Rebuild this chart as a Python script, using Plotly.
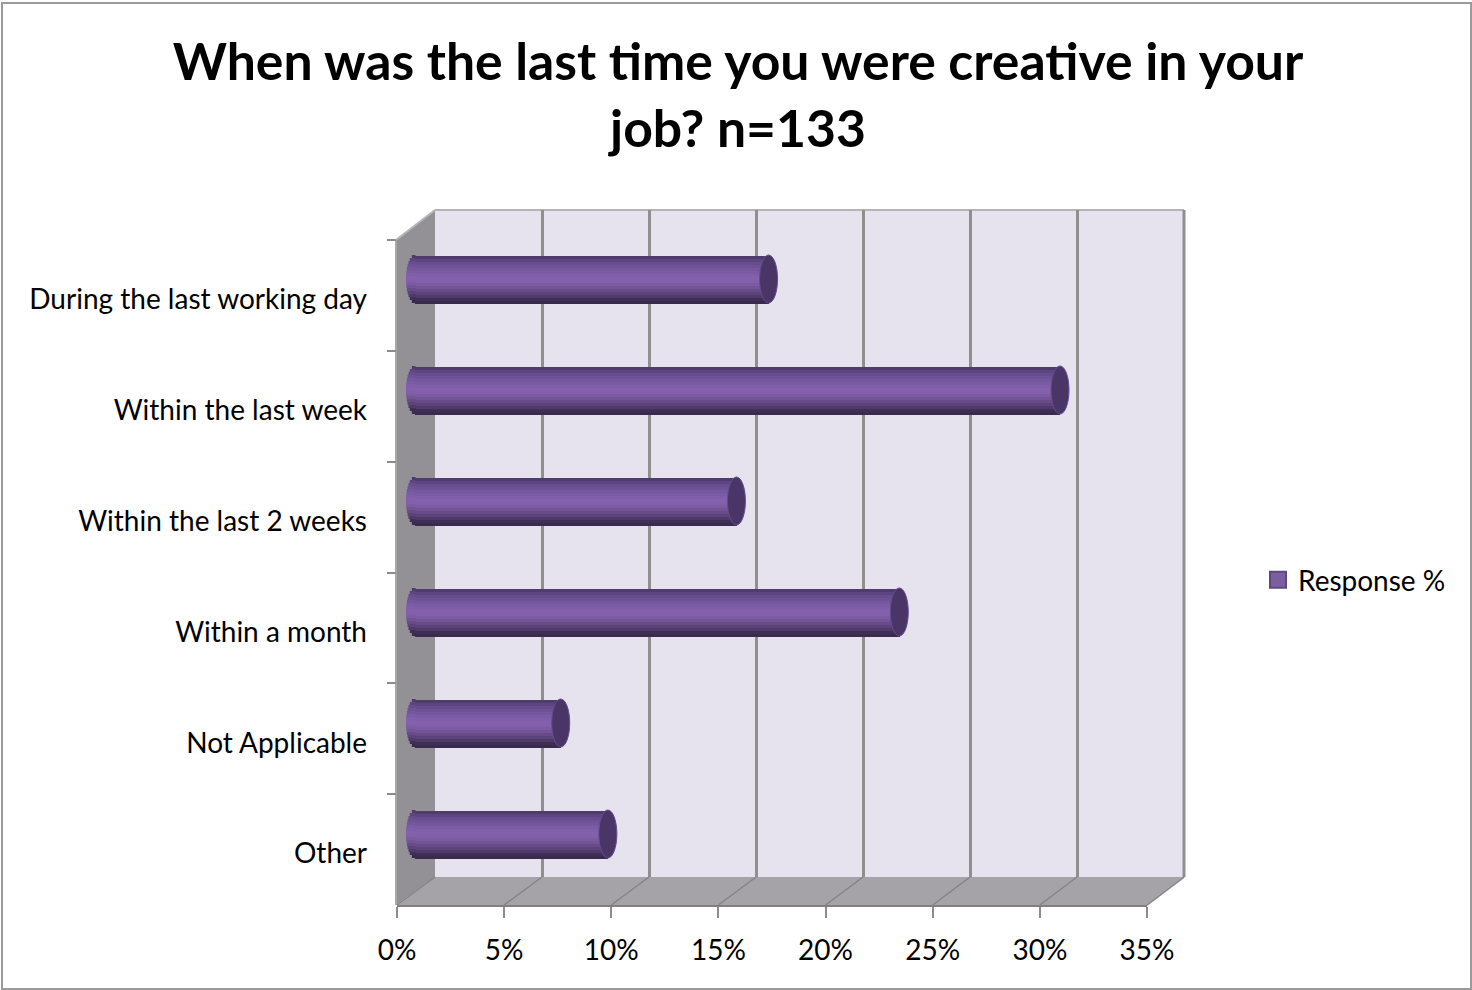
import math
import plotly.graph_objects as go

# Survey results, n=133
categories = ["During the last working day", "Within the last week", "Within the last 2 weeks",
              "Within a month", "Not Applicable", "Other"]
response_pct = [16.5, 30.1, 15.0, 22.6, 6.8, 9.0]
series_name = "Response %"
title_text = "When was the last time you were creative in your<br>job? n=133"

W, H = 1472, 990
FONT = "Lato"

# Cylinder shading, top edge to bottom edge
band_colors = ["#4f3b6e", "#5c4580", "#674d8e", "#6d5296", "#74579e", "#7a5ba4", "#805ea9", "#8460ad",
               "#8360ab", "#7c5ba3", "#735497", "#684c8a", "#5c437a", "#4f3a69", "#3f2e55", "#3a2a4e"]


def px(v):
    return v / W


def py(v):
    return 1 - v / H


def dom_x(a, b):
    return [px(a), px(b)]


def dom_y(top, bottom):
    return [py(bottom), py(top)]


# Pseudo-3D frame geometry in page pixels
FRONT_L, FRONT_R, FRONT_T, FRONT_B = 397, 1147, 240, 905
BACK_L, BACK_R, BACK_T, BACK_B = 435, 1184, 210, 877
BAR_L, BAR_R = 415, 1165
BAR_T, BAR_B = 223.5, 889.5
BAR_THICK = 48 / 111
CAP_RX = 9
PX_PER_PCT = (BAR_R - BAR_L) / 35
LABEL_DROP = 4

fig = go.Figure()


def polygon(points, fill):
    path = "M " + " L ".join(f"{px(x):.5f},{py(y):.5f}" for x, y in points) + " Z"
    return dict(type="path", path=path, xref="paper", yref="paper", fillcolor=fill,
                line=dict(width=0), layer="below")


def segment(x0, y0, x1, y1, color, width=2, layer="below"):
    return dict(type="line", xref="paper", yref="paper", x0=px(x0), y0=py(y0), x1=px(x1), y1=py(y1),
                line=dict(color=color, width=width), layer=layer)


shapes = [
    polygon([(BACK_L, BACK_T), (BACK_R, BACK_T), (BACK_R, BACK_B), (BACK_L, BACK_B)], "#e6e3ee"),
    polygon([(396, FRONT_T), (BACK_L, BACK_T), (BACK_L, BACK_B), (396, FRONT_B)], "#939196"),
    polygon([(FRONT_L, FRONT_B), (BACK_L, BACK_B), (BACK_R, BACK_B), (FRONT_R, FRONT_B)], "#a5a3a8"),
    segment(396, FRONT_T, BACK_L, BACK_T, "#b5b5b5"),
    segment(BACK_L, BACK_T, BACK_R, BACK_T, "#b5b5b5"),
    segment(396, FRONT_T, 396, FRONT_B, "#a8a8a8"),
    segment(FRONT_R, FRONT_B, BACK_R, BACK_B, "#b8b8b8"),
    segment(BACK_R, BACK_T, BACK_R, BACK_B, "#8f8f8f", 3),
]
# Floor lines running from each front tick back to its gridline
for i in range(8):
    f = FRONT_L + (FRONT_R - FRONT_L) * i / 7
    b = BACK_L + (BACK_R - BACK_L) * i / 7
    shapes.append(segment(f, FRONT_B, b, BACK_B, "#858387", 1.5))
# Outer chart frame
shapes.append(dict(type="rect", xref="paper", yref="paper", x0=px(2), y0=py(989), x1=px(1471), y1=py(3),
                   line=dict(color="#9b9b9b", width=2), fillcolor="rgba(0,0,0,0)", layer="below"))

# Back wall gridlines
fig.add_trace(go.Scatter(x=[None], y=[None], xaxis="x", yaxis="y", showlegend=False, hoverinfo="skip"))

# Front axes carry the ticks
fig.add_trace(go.Scatter(x=response_pct, y=categories, xaxis="x2", yaxis="y2", mode="markers",
                         marker=dict(opacity=0), showlegend=False, hoverinfo="skip"))

# The cylinder body: overlaid bars, each band painted from its top edge to the bottom
n = len(band_colors)
step = BAR_THICK / n
for k, color in enumerate(band_colors):
    fig.add_trace(go.Bar(x=response_pct, y=categories, orientation="h", xaxis="x3", yaxis="y3",
                         offset=-BAR_THICK / 2 + k * step, width=BAR_THICK - k * step,
                         marker=dict(color=color, line=dict(width=0)), showlegend=False,
                         hovertemplate="%{y}: %{x}%<extra></extra>"))

# Legend swatch
fig.add_trace(go.Scatter(x=[None], y=[None], xaxis="x3", yaxis="y3", mode="markers", name=series_name,
                         marker=dict(symbol="square", size=16, color="#7b5ea0",
                                     line=dict(color="#5f4784", width=2))))

# Category labels sit on their own axis, slightly below the tick intervals
fig.add_trace(go.Scatter(x=response_pct, y=categories, xaxis="x2", yaxis="y4", mode="markers",
                         marker=dict(opacity=0), showlegend=False, hoverinfo="skip"))

# Rounded ends of every cylinder
for idx, value in enumerate(response_pct):
    for k, color in enumerate(band_colors):
        t = (k + 0.5) / n * 2 - 1
        dx = CAP_RX * math.sqrt(1 - t * t)
        shapes.append(dict(type="rect", xref="x3", yref="y3", xsizemode="pixel", xanchor=0,
                           x0=-dx, x1=0.5,
                           y0=idx - BAR_THICK / 2 + k * step, y1=idx - BAR_THICK / 2 + (k + 1) * step,
                           fillcolor=color, line=dict(width=0), layer="above"))
    shapes.append(dict(type="circle", xref="x3", yref="y3", xsizemode="pixel", xanchor=value,
                       x0=-CAP_RX, x1=CAP_RX, y0=idx - BAR_THICK / 2, y1=idx + BAR_THICK / 2,
                       fillcolor="#4a3666", line=dict(color="#664c8c", width=1), layer="above"))

hidden = dict(visible=False, fixedrange=True)
fig.update_layout(
    width=W, height=H, autosize=False,
    margin=dict(l=0, r=0, t=0, b=0, autoexpand=False),
    paper_bgcolor="white", plot_bgcolor="rgba(0,0,0,0)",
    barmode="overlay", bargap=0,
    shapes=shapes,
    font=dict(family=FONT, color="#000000", size=28),
    title=dict(text=title_text, x=738 / W, xanchor="center", y=py(80), yanchor="middle",
               automargin=False, font=dict(family=FONT, size=51.7, color="#000000", weight=700)),
    legend=dict(x=px(1258), y=py(580), xanchor="left", yanchor="middle", bgcolor="rgba(0,0,0,0)",
                font=dict(family=FONT, size=28)),
    xaxis=dict(domain=dom_x(BACK_L, BACK_R), range=[0, 35], dtick=5, showgrid=True, gridcolor="#8f8f8f",
               gridwidth=3, zeroline=False, showticklabels=False, ticks="", showline=False, anchor="y"),
    yaxis=dict(domain=dom_y(BACK_T, BACK_B), range=[0, 1], showgrid=False, zeroline=False,
               showticklabels=False, ticks="", showline=False, anchor="x"),
    xaxis2=dict(domain=dom_x(FRONT_L, FRONT_R), range=[0, 35], dtick=5, ticksuffix="%", ticks="outside",
                ticklen=11, tickwidth=2, tickcolor="#8c8c8c", showgrid=False, zeroline=False,
                showline=True, linecolor="#808080", linewidth=2, anchor="y2",
                tickfont=dict(family=FONT, size=28), ticklabelstandoff=8),
    yaxis2=dict(domain=dom_y(FRONT_T, FRONT_B), type="category", categoryorder="array",
                categoryarray=categories, range=[5.5, -0.5], tickson="boundaries", ticks="outside",
                ticklen=9, tickwidth=2, tickcolor="#8c8c8c", showgrid=False, zeroline=False,
                showline=False, showticklabels=False, anchor="x2"),
    # Starts one percent left of zero so the rounded left ends are not clipped
    xaxis3=dict(domain=dom_x(BAR_L - PX_PER_PCT, BAR_R), range=[-1, 35], anchor="y3", **hidden),
    yaxis3=dict(domain=dom_y(BAR_T, BAR_B), type="category", categoryorder="array",
                categoryarray=categories, range=[5.5, -0.5], anchor="x3", **hidden),
    yaxis4=dict(domain=dom_y(FRONT_T + LABEL_DROP, FRONT_B + LABEL_DROP), type="category",
                categoryorder="array", categoryarray=categories, range=[5.5, -0.5], ticks="",
                showgrid=False, zeroline=False, showline=False, anchor="x2",
                tickfont=dict(family=FONT, size=28), ticklabelstandoff=29),
)

fig.write_html("out.html")
